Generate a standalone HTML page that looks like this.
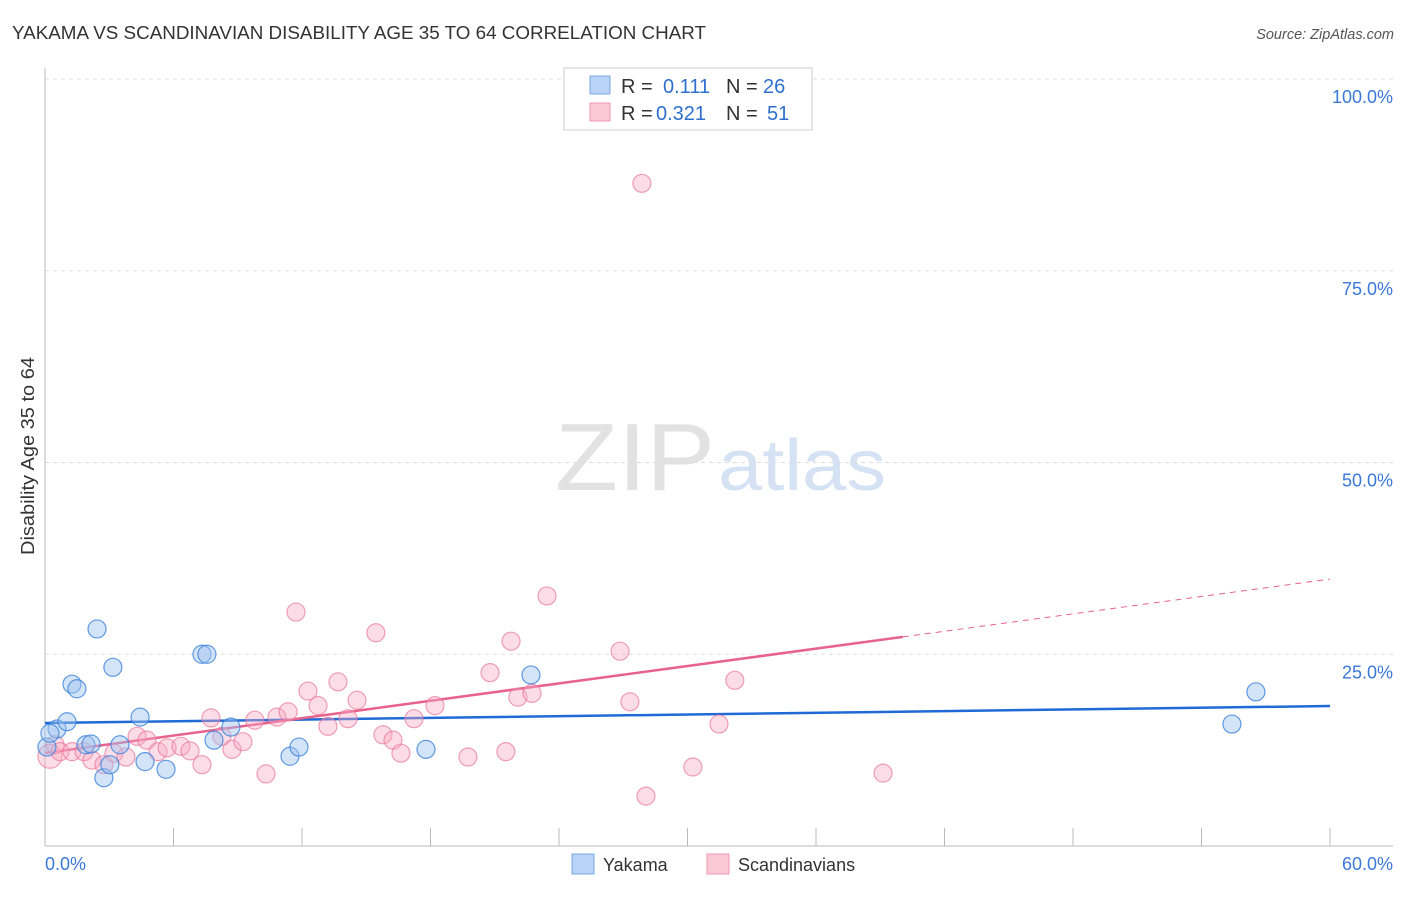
<!DOCTYPE html>
<html><head><meta charset="utf-8"><style>
body{margin:0;background:#fff;font-family:"Liberation Sans",sans-serif}
svg text{font-family:"Liberation Sans",sans-serif}
</style></head><body>
<svg id="chart" width="1406" height="892" viewBox="0 0 1406 892">
<text x="12" y="39" font-size="18" fill="#333" textLength="694" lengthAdjust="spacingAndGlyphs">YAKAMA VS SCANDINAVIAN DISABILITY AGE 35 TO 64 CORRELATION CHART</text>
<text x="1394" y="39" font-size="14.5" fill="#555" font-style="italic" text-anchor="end">Source: ZipAtlas.com</text>
<g>
<text x="555" y="490" font-size="96" fill="#e2e2e2" font-family="Liberation Serif,serif" textLength="160" lengthAdjust="spacingAndGlyphs">ZIP</text>
<text x="718" y="490" font-size="72" fill="#d4e2f3" textLength="168" lengthAdjust="spacingAndGlyphs">atlas</text>
</g>
<g id="grid"></g>
<g id="axes"></g>
<g id="trend"></g>
<g id="pts"></g>
<text transform="translate(34,456) rotate(-90)" font-size="18" fill="#333" text-anchor="middle" textLength="198" lengthAdjust="spacingAndGlyphs">Disability Age 35 to 64</text>
<g>
<rect x="564" y="68" width="248" height="62" fill="#fff" stroke="#ccc"/>
<rect x="590" y="76" width="20" height="18" fill="#b8d3f5" stroke="#7aa8e6"/>
<rect x="590" y="103" width="20" height="18" fill="#fbc8d6" stroke="#ee9ab3"/>
<text x="621" y="93" font-size="20" fill="#333">R = <tspan x="663" fill="#2f6fce">0.111</tspan><tspan x="726" fill="#333">N = </tspan><tspan x="763" fill="#2f6fce">26</tspan></text>
<text x="621" y="120" font-size="20" fill="#333">R = <tspan x="656" fill="#2f6fce">0.321</tspan><tspan x="726" fill="#333">N = </tspan><tspan x="767" fill="#2f6fce">51</tspan></text>
</g>
<g>
<rect x="572" y="854" width="22" height="20" fill="#b8d3f5" stroke="#7aa8e6"/>
<text x="603" y="871" font-size="18" fill="#333">Yakama</text>
<rect x="707" y="854" width="22" height="20" fill="#fbc8d6" stroke="#ee9ab3"/>
<text x="738" y="871" font-size="18" fill="#333">Scandinavians</text>
</g>
</svg>
<script>
const yTicks=[25,50,75,100];
const yTickLabels=["25.0%","50.0%","75.0%","100.0%"];
const xTickLabels=["0.0%","60.0%"];
const yakamaX=[0.09,0.56,1.03,1.26,1.49,1.91,2.15,2.43,2.75,3.03,3.17,3.50,4.44,4.67,5.65,7.33,7.56,7.89,8.68,11.44,11.86,17.79,22.69,55.42,56.54,0.23];
const yakamaY=[12.9,15.25,16.2,21.1,20.5,13.2,13.3,28.3,8.9,10.6,23.3,13.2,16.8,11.0,10.0,25.0,25.0,13.8,15.5,11.7,12.9,12.6,22.3,15.9,20.1,14.7];
const scandX=[0.23,0.47,0.70,1.26,1.82,2.19,2.75,3.22,3.78,4.30,4.76,5.28,5.70,6.35,6.77,7.33,7.75,8.26,8.73,9.24,9.80,10.32,10.83,11.35,11.72,12.28,12.75,13.21,13.68,14.15,14.57,15.45,15.78,16.25,16.62,17.23,18.21,19.75,20.78,21.52,21.76,22.08,22.74,23.44,26.85,27.31,28.06,27.87,30.25,31.47,32.21,39.13];
const scandY=[11.7,13.2,12.3,12.3,12.3,11.2,10.6,12.1,11.6,14.3,13.8,12.3,12.8,13.0,12.4,10.6,16.7,14.3,12.6,13.6,16.4,9.4,16.8,17.5,30.5,20.2,18.3,15.6,21.4,16.6,19.0,27.8,14.5,13.8,12.1,16.6,18.3,11.6,22.6,12.3,26.7,19.4,19.9,32.6,25.4,18.8,6.5,86.4,10.3,15.9,21.6,9.5];
const yakamaTrend=[16.04,18.25];
const scandTrend=[12.13,34.8];
const scandSolidEnd=40.06;

const NS="http://www.w3.org/2000/svg";
const X0=45,X1=1330,Y0=846,Y100=79;
const sx=v=>X0+(v/60)*(X1-X0);
const sy=v=>Y0-(v/100)*(Y0-Y100);
function mk(tag,attrs,parent){const e=document.createElementNS(NS,tag);for(const k in attrs)e.setAttribute(k,attrs[k]);parent.appendChild(e);return e;}
const grid=document.getElementById('grid'),axes=document.getElementById('axes'),trend=document.getElementById('trend'),pts=document.getElementById('pts');
yTicks.forEach((t,i)=>{
 const l=mk('line',{x1:X0,x2:1393,y1:sy(t),y2:sy(t),stroke:'#ddd','stroke-dasharray':'4,4'},grid);
 
 
 const tx=mk('text',{x:1393,y:sy(t)+24,'font-size':18,fill:'#3b78d8','text-anchor':'end'},axes);
 tx.textContent=yTickLabels[i];
 
 
});
const ya=mk('line',{x1:X0,x2:X0,y1:68,y2:Y0,stroke:'#bbb'},axes);


const xa=mk('line',{x1:X0,x2:1393,y1:Y0,y2:Y0,stroke:'#bbb'},axes);


for(let i=0;i<=10;i++){
 const tk=mk('line',{x1:sx(i*6),x2:sx(i*6),y1:828,y2:Y0,stroke:'#bbb'},axes);
 
 
}
[[0,'start',45],[60,'end',1393]].forEach((d,i)=>{
 const tx=mk('text',{x:d[2],y:870,'font-size':18,fill:'#3b78d8','text-anchor':d[1]},axes);
 tx.textContent=xTickLabels[i];
 
 
});
const bl=mk('line',{x1:sx(0),y1:sy(yakamaTrend[0]),x2:sx(60),y2:sy(yakamaTrend[1]),stroke:'#1f6ad6','stroke-width':2.5},trend);


const midY=scandTrend[0]+(scandTrend[1]-scandTrend[0])*scandSolidEnd/60;
const pl=mk('line',{x1:sx(0),y1:sy(scandTrend[0]),x2:sx(scandSolidEnd),y2:sy(midY),stroke:'#e8628e','stroke-width':2.5},trend);


const pd=mk('line',{x1:sx(scandSolidEnd),y1:sy(midY),x2:sx(60),y2:sy(scandTrend[1]),stroke:'#e8628e','stroke-width':1,'stroke-dasharray':'6,5'},trend);


scandX.forEach((x,i)=>{
 const c=mk('circle',{cx:sx(x),cy:sy(scandY[i]),r:i===0?12:9,fill:'rgba(248,170,195,0.4)',stroke:'rgba(232,120,155,0.7)','stroke-width':1.2},pts);
 
 
});
yakamaX.forEach((x,i)=>{
 const c=mk('circle',{cx:sx(x),cy:sy(yakamaY[i]),r:9,fill:'rgba(160,195,240,0.45)',stroke:'rgba(60,130,220,0.8)','stroke-width':1.2},pts);
 
 
});
</script>
</body></html>
